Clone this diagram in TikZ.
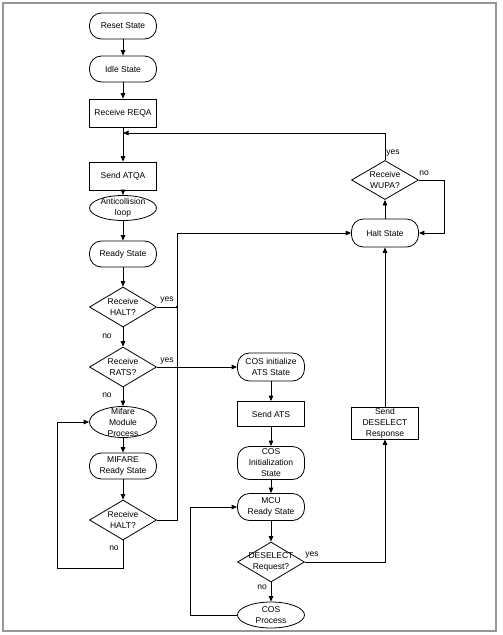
\documentclass[tikz,border=0pt]{standalone}
\usepackage{fontspec}
\setmainfont{Liberation Sans}
\usetikzlibrary{shapes.geometric,arrows.meta}
\definecolor{frame}{RGB}{150,150,150}
\tikzset{
 base/.style={draw, line width=0.8pt, font=\fontsize{8.5}{11}\selectfont, align=center, inner sep=1pt},
 term/.style={base, rectangle, rounded corners=12pt, minimum width=67pt, minimum height=26pt},
 proc/.style={base, rectangle, minimum width=67pt, minimum height=28pt},
 ell/.style={base, ellipse, minimum width=67pt, minimum height=24pt, inner sep=0pt},
 dec/.style={base, diamond, minimum width=67pt, minimum height=40pt, inner sep=0pt},
 lbl/.style={font=\fontsize{8.5}{11}\selectfont, inner sep=0pt, align=center},
 arr/.style={line width=0.8pt, -{Triangle[length=5.5pt,width=4.5pt]}},
 ln/.style={line width=0.8pt},
}
\begin{document}
\begin{tikzpicture}[x=1pt,y=-1pt]
\useasboundingbox (0,0) rectangle (503,635);
\draw[frame, line width=1.5pt] (3,3) rectangle (496,631);
% left column
\node[term] (reset) at (123,26) {Reset State};
\node[term] (idle) at (123,69) {Idle State};
\node[proc] (reqa) at (123,113) {Receive REQA};
\node[proc] (atqa) at (123,176) {Send ATQA};
\node[ell, minimum height=25pt, label={[lbl]center:Anticollision\\loop}] (anti) at (123,208) {};
\node[term] (ready) at (123,254) {Ready State};
\node[dec, label={[lbl]center:Receive\\HALT?}] (h1) at (123,307) {};
\node[dec, label={[lbl]center:Receive\\RATS?}] (rats) at (123,367) {};
\node[ell, minimum height=31pt, label={[lbl]center:Mifare\\Module\\Process}] (mif) at (123,422) {};
\node[term] (mrdy) at (123,466) {MIFARE\\Ready State};
\node[dec, label={[lbl]center:Receive\\HALT?}] (h2) at (123,520) {};
% middle column
\node[term, minimum height=28pt] (cosats) at (271,367) {COS initialize\\ATS State};
\node[proc, minimum height=25pt] (sats) at (271,414) {Send ATS};
\node[term, minimum height=33pt] (cosinit) at (271,463) {COS\\Initialization\\State};
\node[term, minimum height=27pt] (mcu) at (271,507) {MCU\\Ready State};
\node[dec, label={[lbl]center:DESELECT\\Request?}] (desel) at (271,562) {};
\node[ell, minimum height=26pt, label={[lbl]center:COS\\Process}] (cosp) at (271,615) {};
% right column
\node[dec, minimum height=39pt, label={[lbl]center:Receive\\WUPA?}] (wupa) at (385,180) {};
\node[term, minimum height=28pt] (halt) at (385,233) {Halt State};
\node[proc, minimum height=32pt] (sdes) at (385,423) {Send\\DESELECT\\Response};
% helper coordinates
\coordinate (jr) at (123,133);
\coordinate (wt) at (385,133);
\coordinate (wr) at (444,180);
\coordinate (j) at (177,307);
\coordinate (jt) at (177,233);
\coordinate (lp) at (57,568);
\coordinate (lp2) at (190,615);
% connectors
\draw[arr] (reset) -- (idle);
\draw[arr] (idle) -- (reqa);
\draw[arr] (reqa) -- (atqa);
\draw[arr] (atqa) -- (anti);
\draw[arr] (anti) -- (ready);
\draw[arr] (ready) -- (h1);
\draw[arr] (h1) -- (rats);
\draw[arr] (rats) -- (mif);
\draw[arr] (mif) -- (mrdy);
\draw[arr] (mrdy) -- (h2);
\draw[arr] (h2.south) |- (lp) |- (mif.west);
\draw[ln] (h1.east) -- (j);
\fill (j) circle (1.4pt);
\draw[arr] (h2.east) -| (jt) -- (halt.west);
\draw[arr] (rats.east) -- (cosats.west);
\draw[arr] (cosats) -- (sats);
\draw[arr] (sats) -- (cosinit);
\draw[arr] (cosinit) -- (mcu);
\draw[arr] (mcu) -- (desel);
\draw[arr] (desel) -- (cosp);
\draw[arr] (cosp.west) -- (lp2) |- (mcu.west);
\draw[arr] (desel.east) -| (sdes.south);
\draw[arr] (sdes) -- (halt);
\draw[arr] (halt) -- (wupa);
\draw[arr] (wupa.east) -- (wr) |- (halt.east);
\draw[arr] (wupa.north) -- (wt) -- (jr);
% labels
\node[lbl] (l1) at (167,300) {yes};
\node[lbl] (l2) at (107,336) {no};
\node[lbl] (l3) at (167,361) {yes};
\node[lbl] (l4) at (107,395) {no};
\node[lbl] (l5) at (114,548) {no};
\node[lbl] (l6) at (393,153) {yes};
\node[lbl] (l7) at (424,173) {no};
\node[lbl] (l8) at (312,555) {yes};
\node[lbl] (l9) at (262,587) {no};
\end{tikzpicture}
\end{document}
